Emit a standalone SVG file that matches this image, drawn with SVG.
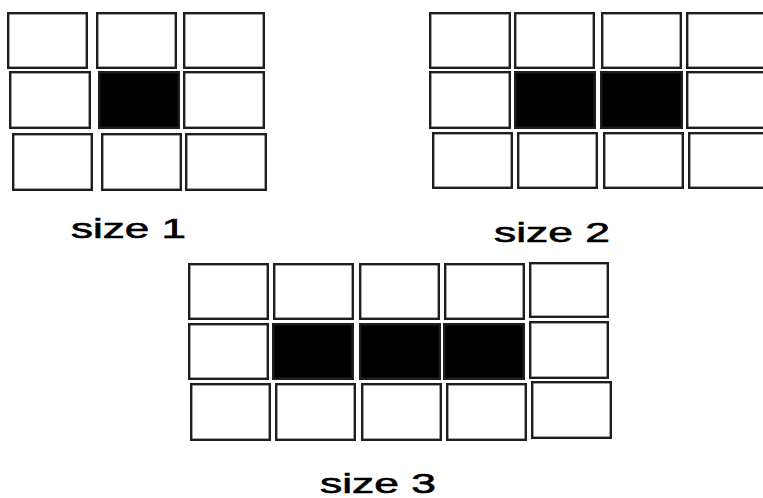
<svg xmlns="http://www.w3.org/2000/svg" width="763" height="498" viewBox="0 0 763 498">
<style>
.c{fill:#fff;stroke:#1e1e1e;stroke-width:2.4}
.f{fill:#000;stroke:#1e1e1e;stroke-width:2.4}
.t{font-family:"Liberation Sans",Arial,sans-serif;font-size:27px;font-weight:normal;fill:#000;stroke:#000;stroke-width:0.6}
</style>
<rect width="763" height="498" fill="#fff"/>
<g id="grid-size1">
<rect class="c" x="8.2" y="13.2" width="78.6" height="54.6"/>
<rect class="c" x="97.2" y="13.2" width="78.6" height="54.6"/>
<rect class="c" x="184.2" y="13.2" width="79.6" height="54.6"/>
<rect class="c" x="10.2" y="72.2" width="79.6" height="55.6"/>
<rect class="f" x="99.2" y="72.2" width="79.6" height="55.6"/>
<rect class="c" x="184.2" y="72.2" width="79.6" height="55.6"/>
<rect class="c" x="13.2" y="134.2" width="78.6" height="55.6"/>
<rect class="c" x="102.2" y="134.2" width="78.6" height="55.6"/>
<rect class="c" x="186.2" y="134.2" width="79.6" height="55.6"/>
</g>
<g id="grid-size2">
<rect class="c" x="430.2" y="13.2" width="79.6" height="54.6"/>
<rect class="c" x="515.2" y="13.2" width="78.6" height="54.6"/>
<rect class="c" x="602.2" y="13.2" width="78.6" height="54.6"/>
<rect class="c" x="687.2" y="13.2" width="80" height="54.6"/>
<rect class="c" x="430.2" y="72.2" width="79.6" height="55.6"/>
<rect class="f" x="515.2" y="72.2" width="79.6" height="55.6"/>
<rect class="f" x="601.2" y="72.2" width="80.6" height="55.6"/>
<rect class="c" x="687.2" y="72.2" width="80" height="55.6"/>
<rect class="c" x="433.2" y="133.2" width="78.6" height="54.6"/>
<rect class="c" x="518.2" y="133.2" width="78.6" height="54.6"/>
<rect class="c" x="604.2" y="133.2" width="78.6" height="54.6"/>
<rect class="c" x="689.2" y="133.2" width="80" height="54.6"/>
</g>
<g id="grid-size3">
<rect class="c" x="189.2" y="264.2" width="78.6" height="54.6"/>
<rect class="c" x="274.2" y="264.2" width="78.6" height="54.6"/>
<rect class="c" x="360.2" y="264.2" width="78.6" height="54.6"/>
<rect class="c" x="445.2" y="264.2" width="78.6" height="54.6"/>
<rect class="c" x="530.2" y="263.2" width="77.6" height="53.6"/>
<rect class="c" x="189.2" y="324.2" width="78.6" height="54.6"/>
<rect class="f" x="273.2" y="324.2" width="79.6" height="54.6"/>
<rect class="f" x="360.2" y="324.2" width="79.6" height="54.6"/>
<rect class="f" x="444.2" y="324.2" width="79.6" height="54.6"/>
<rect class="c" x="530.2" y="322.2" width="77.6" height="55.6"/>
<rect class="c" x="191.2" y="384.2" width="78.6" height="55.6"/>
<rect class="c" x="276.2" y="384.2" width="78.6" height="55.6"/>
<rect class="c" x="362.2" y="384.2" width="78.6" height="55.6"/>
<rect class="c" x="447.2" y="384.2" width="78.6" height="55.6"/>
<rect class="c" x="532.2" y="382.2" width="78.6" height="55.6"/>
</g>
<g id="labels">
<text class="t" x="71" y="238" textLength="115" lengthAdjust="spacingAndGlyphs">size 1</text>
<text class="t" x="494" y="242" textLength="116" lengthAdjust="spacingAndGlyphs">size 2</text>
<text class="t" x="320" y="493" textLength="116" lengthAdjust="spacingAndGlyphs">size 3</text>
</g>
</svg>
